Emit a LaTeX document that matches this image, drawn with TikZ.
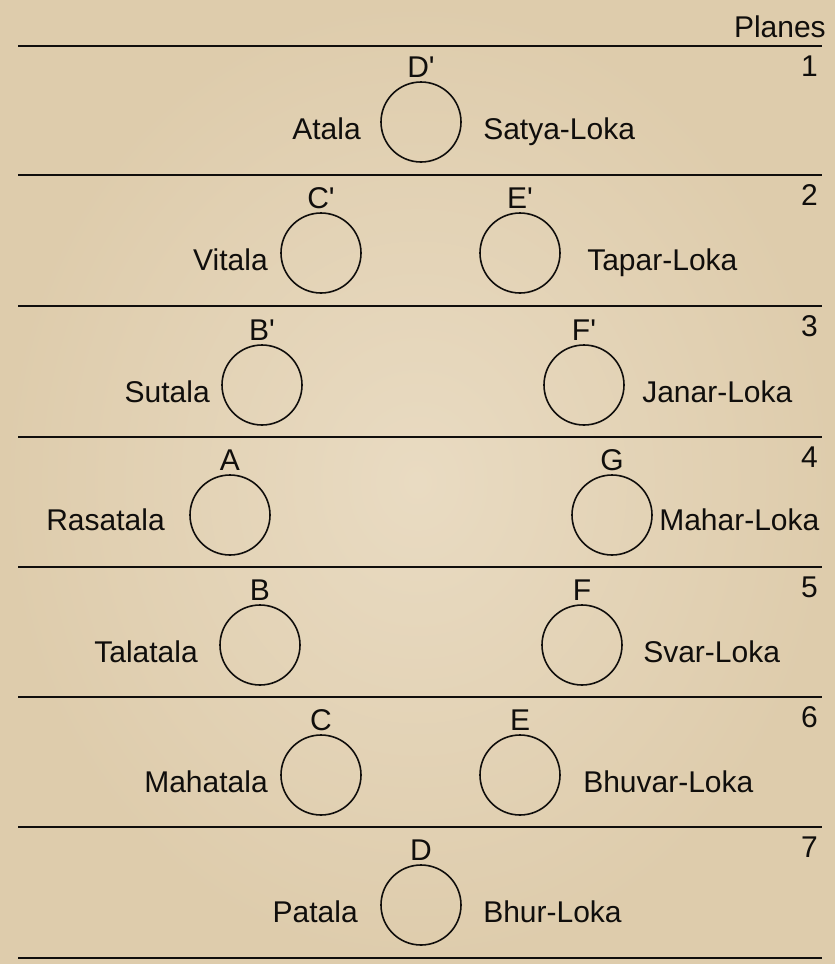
\documentclass[tikz,border=0pt]{standalone}
\usepackage{fontspec}
\setmainfont{Liberation Sans}
\definecolor{paperin}{RGB}{233,219,194}
\definecolor{paperout}{RGB}{222,204,172}
\definecolor{ink}{RGB}{16,14,12}
\begin{document}
\begin{tikzpicture}[x=0.75pt,y=-0.75pt,
  lbl/.style={inner sep=0pt,font=\fontsize{22.5}{27}\selectfont,text=ink},
  ring/.style={draw=ink,line width=1.2pt,circle,minimum size=60pt,inner sep=0pt},
  rule/.style={draw=ink,line width=1.9pt}]
\shade[inner color=paperin,outer color=paperout] (0,0) rectangle (835,964);
\useasboundingbox (0,0) rectangle (835,964);
% horizontal rules
\foreach \i/\y in {0/46,1/175,2/306,3/437,4/567,5/697,6/827,7/958}{
  \coordinate (L\i) at (18,\y);
  \coordinate (R\i) at (822,\y);
  \draw[rule] (L\i) -- (R\i);
}
\node[lbl,anchor=base east] (planes) at (826,37) {Planes};
% plane numbers
\foreach \n/\y in {1/76,2/205,3/336,4/467,5/597,6/727,7/857}{
  \node[lbl,anchor=base east] (num\n) at (818,\y) {\n};
}
% circles
\node[ring] (Dp) at (421,122) {};
\node[ring] (Cp) at (321,253) {};
\node[ring] (Ep) at (520,253) {};
\node[ring] (Bp) at (262,385) {};
\node[ring] (Fp) at (584,385) {};
\node[ring] (A) at (230,515) {};
\node[ring] (G) at (612,515) {};
\node[ring] (B) at (260,645) {};
\node[ring] (F) at (582,645) {};
\node[ring] (C) at (321,775) {};
\node[ring] (E) at (520,775) {};
\node[ring] (D) at (421,905) {};
% letters above circles
\foreach \c/\t in {Dp/D\textquotesingle,Cp/C\textquotesingle,Ep/E\textquotesingle,Bp/B\textquotesingle,Fp/F\textquotesingle,A/A,G/G,B/B,F/F,C/C,E/E,D/D}{
  \node[lbl,anchor=base] (t\c) at ([yshift=3]\c.north) {\t};
}
% left labels
\node[lbl,anchor=base east] (atala) at (361,139) {Atala};
\node[lbl,anchor=base east] (vitala) at (268,270) {Vitala};
\node[lbl,anchor=base east] (sutala) at (210,402) {Sutala};
\node[lbl,anchor=base east] (rasatala) at (165,530) {Rasatala};
\node[lbl,anchor=base east] (talatala) at (198,662) {Talatala};
\node[lbl,anchor=base east] (mahatala) at (268,792) {Mahatala};
\node[lbl,anchor=base east] (patala) at (358,922) {Patala};
% right labels
\node[lbl,anchor=base west] (satya) at (483,139) {Satya-Loka};
\node[lbl,anchor=base west] (tapar) at (587,270) {Tapar-Loka};
\node[lbl,anchor=base west] (janar) at (642,402) {Janar-Loka};
\node[lbl,anchor=base west] (mahar) at (659,530) {Mahar-Loka};
\node[lbl,anchor=base west] (svar) at (643,662) {Svar-Loka};
\node[lbl,anchor=base west] (bhuvar) at (583,792) {Bhuvar-Loka};
\node[lbl,anchor=base west] (bhur) at (483,922) {Bhur-Loka};
\end{tikzpicture}
\end{document}
